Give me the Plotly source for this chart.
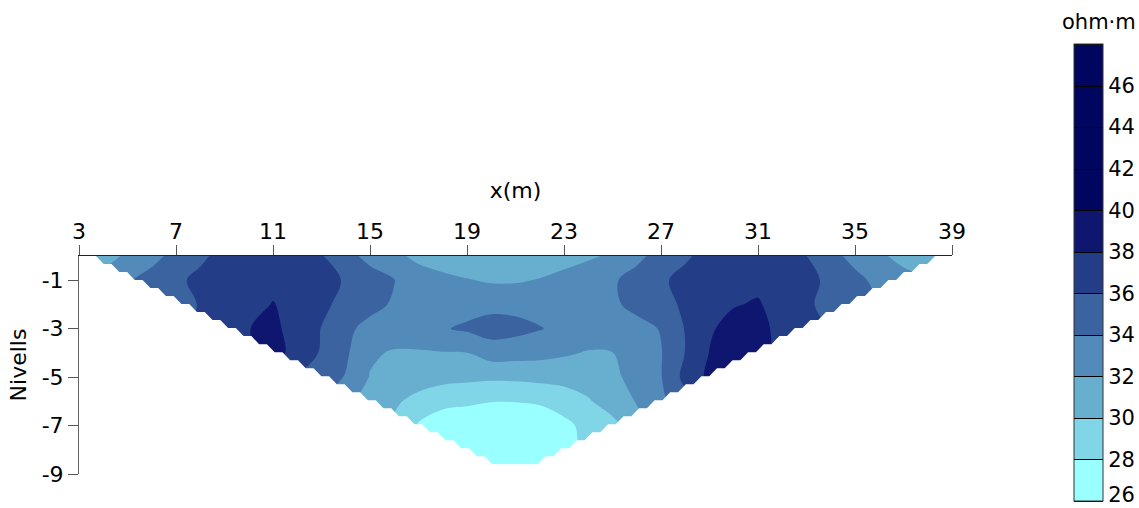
import plotly.graph_objects as go

# Pseudo-section grid: stations every 1 m, one row per pseudo-depth level.
depth_levels = [0, 1, 2, 3, 4, 5, 6, 7, 8, 8.6]
first_station = [4, 5, 7, 9, 11, 13, 15, 17, 19, 20]
stations = list(range(3, 40))

# Extent of the surveyed triangle (m)
top_edges = (3.7, 38.3)
bottom_edges = (20.36, 21.6)
max_depth = 8.6
cell_rows = 26  # display cells down the section

# Apparent resistivity (ohm·m) along each level, from the first station onwards
rho_d0 = [31.3, 32.3, 33.4, 34.6, 35.6, 36.7, 37.2, 37.4, 37.0, 36.1, 34.8, 33.3,
          32.5, 31.5, 31.0, 30.8, 30.6, 30.6, 30.8, 31.1, 31.7, 32.3, 33.6, 34.6,
          35.7, 36.7, 37.2, 37.4, 37.0, 36.0, 34.6, 33.4, 32.4, 31.3, 30.8]
rho_d1 = [33.8, 34.7, 35.6, 36.5, 37.1, 37.5, 37.7, 37.4, 36.8, 35.8, 35.0, 34.05,
          33.0, 32.5, 32.1, 31.8, 31.8, 32.1, 32.7, 33.2, 33.8, 34.6, 35.7, 36.6,
          37.2, 37.6, 37.6, 37.3, 36.5, 35.6, 34.5, 33.5, 32.8]
rho_d2 = [35.4, 36.1, 37.0, 37.6, 38.05, 37.6, 36.5, 35.3, 34.5, 33.8, 33.4, 33.5,
          33.3, 33.4, 33.4, 33.3, 33.2, 33.3, 33.7, 34.5, 35.4, 36.3, 37.0, 37.9,
          38.15, 37.3, 36.4, 35.2, 34.6]
rho_d3 = [37.3, 37.95, 38.6, 36.9, 35.95, 34.35, 33.5, 33.1, 33.2, 33.85, 34.3, 34.9,
          34.6, 34.1, 33.5, 33.2, 33.2, 33.4, 34.1, 36.1, 37.8, 38.6, 38.4, 37.6, 37.0]
rho_d4 = [38.8, 37.2, 35.8, 34.3, 32.3, 31.8, 31.8, 31.9, 31.98, 32.9, 32.8, 32.6,
          32.25, 31.85, 31.97, 33.0, 33.9, 36.05, 38.05, 38.8, 38.5]
rho_d5 = [34.8, 33.9, 31.9, 31.2, 30.9, 30.7, 30.5, 30.35, 30.4, 30.6, 30.7, 31.0,
          31.75, 32.4, 33.9, 36.6, 38.4]
rho_d6 = [31.0, 30.3, 29.4, 28.5, 28.3, 28.05, 28.05, 28.2, 28.9, 29.8, 31.0, 32.1, 33.6]
rho_d7 = [27.8, 27.0, 26.8, 26.7, 26.7, 27.0, 27.5, 28.6, 29.4]
rho_d8 = [27.0, 26.6, 26.5, 26.7, 27.3]
rho_d86 = [26.4, 26.3, 26.5]
rho_rows = [rho_d0, rho_d1, rho_d2, rho_d3, rho_d4, rho_d5, rho_d6, rho_d7, rho_d8, rho_d86]

# Colour classes, 2 ohm·m wide, from 26 to 48
class_edges = list(range(26, 50, 2))
class_colors = ["#99FFFF", "#80D5E6", "#68AFCF", "#528AB9", "#3B63A0", "#243D87",
                "#0E1670", "#000560", "#000560", "#000560", "#000560"]
x_ticks = list(range(3, 40, 4))
y_ticks = [-1, -3, -5, -7, -9]
cbar_ticks = list(range(26, 48, 2))

# Regular grid; points outside the surveyed triangle are left empty
grid = []
for start, row in zip(first_station, rho_rows):
    line = [None] * len(stations)
    for k, v in enumerate(row):
        line[stations.index(start + k)] = v
    grid.append(line)
y_vals = [-d for d in depth_levels][::-1]
grid = grid[::-1]

zmin, zmax = class_edges[0], class_edges[-1]
span = zmax - zmin
colorscale = []
for i, c in enumerate(class_colors):
    colorscale.append([(class_edges[i] - zmin) / span, c])
    colorscale.append([(class_edges[i + 1] - zmin) / span, c])

FONT = "DejaVu Sans"
contours = dict(start=zmin, end=zmax, size=2, coloring="fill")

# Plot area in pixels, used to place the colour bar and its title
PLOT_L, PLOT_R, PLOT_T, PLOT_B = 79, 952, 256, 474
plot_w, plot_h = PLOT_R - PLOT_L, PLOT_B - PLOT_T


def px_x(px):
    return (px - PLOT_L) / plot_w


def px_y(px):
    return (PLOT_B - px) / plot_h


# Serrated outline of the section: one notch per display cell row
h = max_depth / cell_rows
run_l = (bottom_edges[0] - top_edges[0]) / cell_rows
run_r = (top_edges[1] - bottom_edges[1]) / cell_rows
x0, x3 = x_ticks[0], x_ticks[-1]
mask_x, mask_y = [x0, top_edges[0]], [0, 0]
for j in range(cell_rows):
    xl = top_edges[0] + run_l * j
    mask_x += [xl + run_l / 2, xl + run_l]
    mask_y += [-(j + 1) * h, -(j + 1) * h]
for j in reversed(range(cell_rows)):
    xr = top_edges[1] - run_r * j
    mask_x += [xr - run_r, xr - run_r / 2, xr]
    mask_y += [-(j + 1) * h, -(j + 1) * h, -j * h]
mask_x += [x3, x3, x0, x0]
mask_y += [0, y_ticks[-1], y_ticks[-1], 0]

fig = go.Figure()
fig.add_trace(go.Contour(
    x=stations, y=y_vals, z=grid, connectgaps=True,
    autocontour=False, contours=dict(contours, showlines=False),
    colorscale=colorscale, zmin=zmin, zmax=zmax,
    line=dict(width=0), showscale=False, hoverinfo="skip",
))

# White cover outside the surveyed triangle
fig.add_trace(go.Scatter(
    x=mask_x, y=mask_y, mode="lines", fill="toself", fillcolor="white",
    line=dict(width=0), hoverinfo="skip", showlegend=False,
))

# Transparent twin that only carries the class legend bar
cbar_vals = [v + 0.3 if v == zmin else v for v in cbar_ticks]
fig.add_trace(go.Contour(
    x=stations, y=y_vals, z=grid, connectgaps=True,
    autocontour=False, contours=dict(contours, showlines=True),
    colorscale=colorscale, zmin=zmin, zmax=zmax, opacity=0,
    line=dict(width=1, color="black"), hoverinfo="skip",
    colorbar=dict(
        tickvals=cbar_vals, ticktext=[str(v) for v in cbar_ticks], ticks="",
        ticklabeloverflow="allow",
        tickfont=dict(family=FONT, size=21, color="black"),
        thickness=29, lenmode="pixels", len=457,
        x=px_x(1074), xanchor="left", xpad=0,
        y=px_y(272.5), yanchor="middle", ypad=0,
        outlinecolor="#333333", outlinewidth=1,
    ),
))

fig.add_annotation(
    text="ohm·m", xref="paper", yref="paper", x=px_x(1099), y=px_y(22),
    xanchor="center", yanchor="middle", showarrow=False,
    font=dict(family=FONT, size=21, color="black"),
)

fig.update_layout(
    width=1139, height=508,
    margin=dict(l=PLOT_L, r=1139 - PLOT_R, t=PLOT_T, b=508 - PLOT_B, autoexpand=False),
    paper_bgcolor="white", plot_bgcolor="white",
    font=dict(family=FONT, size=21, color="black"),
    showlegend=False,
    xaxis=dict(
        range=[x0, x3], side="top", tickvals=x_ticks, ticks="outside", ticklen=10,
        tickcolor="#555555", showline=True, linecolor="#222222", linewidth=1,
        showgrid=False, zeroline=False, ticklabelstandoff=-3,
        title=dict(text="x(m)", font=dict(family=FONT, size=22), standoff=14),
        tickfont=dict(family=FONT, size=22),
    ),
    yaxis=dict(
        range=[y_ticks[-1], 0], tickvals=y_ticks, ticktext=[str(v) for v in y_ticks],
        ticks="outside", ticklen=10,
        tickcolor="#555555", showline=True, linecolor="#666666", linewidth=1,
        showgrid=False, zeroline=False,
        title=dict(text="Nivells", font=dict(family=FONT, size=22), standoff=8),
        tickfont=dict(family=FONT, size=22),
    ),
)

fig.write_html("out.html")
